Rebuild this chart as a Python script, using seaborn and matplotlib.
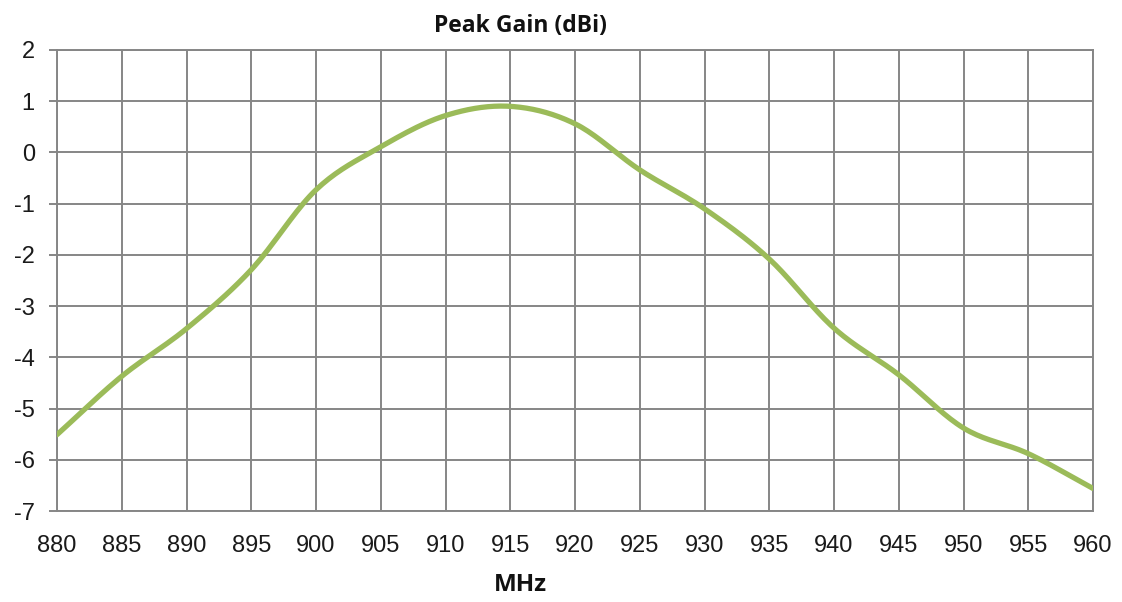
import numpy as np
import pandas as pd
import matplotlib
matplotlib.use("Agg")
import matplotlib.pyplot as plt
import seaborn as sns

freq_mhz = [880, 885, 890, 895, 900, 905, 910, 915, 920, 925, 930, 935, 940, 945, 950, 955, 960]
gain_dbi = [-5.51, -4.37, -3.44, -2.29, -0.73, 0.11, 0.72, 0.90, 0.56, -0.34, -1.10, -2.08,
            -3.43, -4.34, -5.38, -5.88, -6.56]
x_ticks = list(range(880, 961, 5))
y_ticks = list(range(-7, 3))
title = "Peak Gain (dBi)"
x_label = "MHz"


def smooth(xs, ys, n=20):
    # Catmull-Rom rendering of the smoothed line (like a spreadsheet "smoothed line")
    xs = np.asarray(xs, float)
    ys = np.asarray(ys, float)
    px = np.concatenate([[2 * xs[0] - xs[1]], xs, [2 * xs[-1] - xs[-2]]])
    py = np.concatenate([[2 * ys[0] - ys[1]], ys, [2 * ys[-1] - ys[-2]]])
    ox, oy = [], []
    t = np.linspace(0, 1, n, endpoint=False)
    for i in range(1, len(px) - 2):
        for arr, out in ((px, ox), (py, oy)):
            p0, p1, p2, p3 = arr[i - 1], arr[i], arr[i + 1], arr[i + 2]
            out.extend(0.5 * ((2 * p1) + (-p0 + p2) * t + (2 * p0 - 5 * p1 + 4 * p2 - p3) * t ** 2
                              + (-p0 + 3 * p1 - 3 * p2 + p3) * t ** 3))
    ox.append(xs[-1])
    oy.append(ys[-1])
    return np.array(ox), np.array(oy)


sx, sy = smooth(freq_mhz, gain_dbi)
df = pd.DataFrame({"MHz": sx, "Gain": sy})

sns.set_theme(style="white")
plt.rcParams["font.family"] = ["Liberation Sans", "DejaVu Sans"]

fig = plt.figure(figsize=(11.22, 6.02), dpi=100)
ax = fig.add_axes([57 / 1122, 1 - 511 / 602, (1093 - 57) / 1122, (511 - 50) / 602])

sns.lineplot(data=df, x="MHz", y="Gain", ax=ax, color="#9BBB59", linewidth=3.8,
             sort=False, estimator=None, zorder=3)

ax.set_xlim(880, 960)
ax.set_ylim(-7, 2)
ax.set_xticks(x_ticks)
ax.set_yticks(y_ticks)
ax.set_xticklabels([str(v) for v in x_ticks])
ax.set_yticklabels([str(v) for v in y_ticks])
ax.grid(True, color="#868686", linewidth=1.4)
ax.set_axisbelow(True)
for s in ax.spines.values():
    s.set_color("#868686")
    s.set_linewidth(1.4)
ax.tick_params(axis="y", length=6, width=1.4, color="#868686", labelsize=17, pad=10,
               labelcolor="#1a1a1a", left=True, direction="out")
ax.tick_params(axis="x", length=0, labelsize=17, pad=17, labelcolor="#1a1a1a")
ax.set_xlabel("")
ax.set_ylabel("")

fig.text(520 / 1122, 1 - 26 / 602, title, ha="center", va="center", fontsize=16.5,
         fontweight="bold", family=["Open Sans", "DejaVu Sans"], color="#111111")
fig.text(520 / 1122, 1 - 585 / 602, x_label, ha="center", va="center", fontsize=17.5,
         fontweight="bold", family=["Open Sans", "DejaVu Sans"], color="#111111")

fig.savefig("out.png", dpi=100, facecolor="white")
